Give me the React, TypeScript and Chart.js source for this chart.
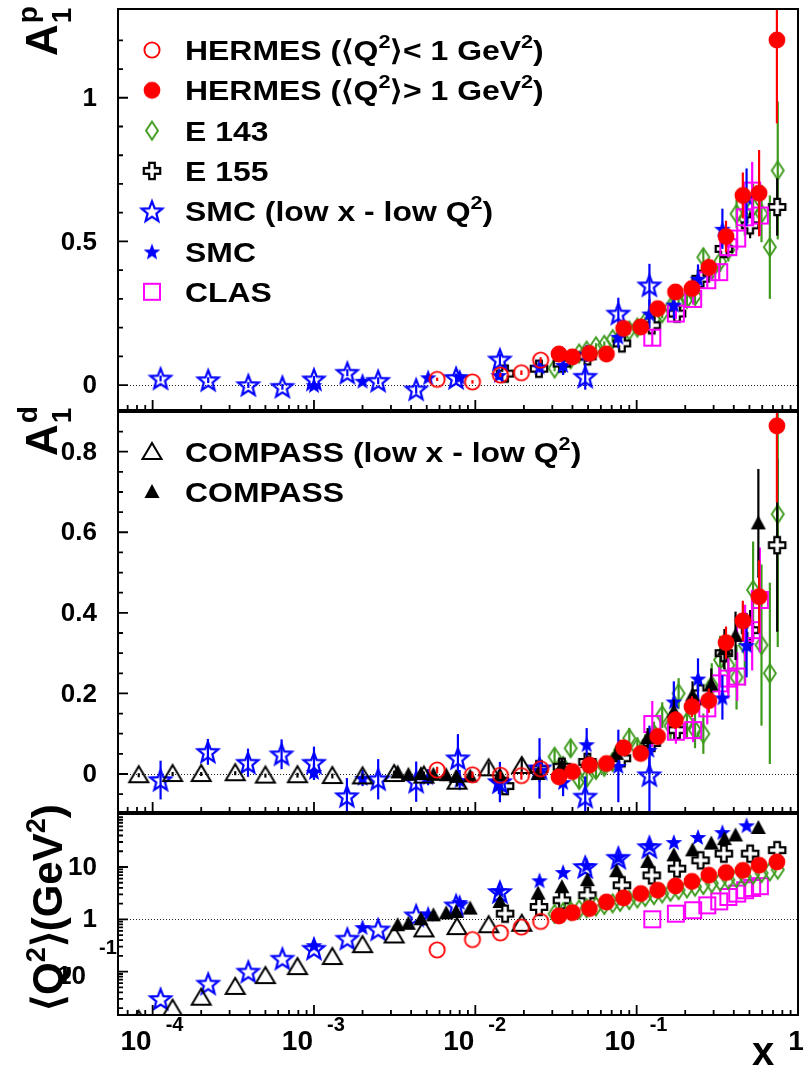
import React, { useEffect, useRef } from "react";
import { Chart, registerables } from "chart.js";
Chart.register(...registerables);

const W = 807;
const H = 1070;
const FONT = '"Liberation Sans", Arial, Helvetica, sans-serif';
const RED = "#ff0000";
const BLUE = "#0000ff";
const MAGENTA = "#ff00ff";
const GREEN = "#3d9a1c";
const BLACK = "#000000";

// ---------------- DATA ----------------
// HERMES <Q2> < 1 GeV2 (open circles)
const hermesLoX = [0.0058, 0.0096, 0.0143, 0.0193, 0.0254];
const hermesLoA1p = [0.02, 0.011, 0.035, 0.043, 0.087];
const hermesLoA1pErr = [0.006, 0.006, 0.007, 0.008, 0.01];
const hermesLoA1d = [0.01, -0.002, -0.003, -0.004, 0.013];
const hermesLoA1dErr = [0.008, 0.008, 0.009, 0.01, 0.012];
const hermesLoQ2 = [0.26, 0.41, 0.55, 0.71, 0.91];

// HERMES <Q2> > 1 GeV2 (filled circles)
const hermesHiX = [0.033, 0.04, 0.051, 0.065, 0.083, 0.106, 0.135, 0.174, 0.22, 0.28, 0.358, 0.455, 0.574, 0.74];
const hermesHiA1p = [0.108, 0.098, 0.11, 0.108, 0.197, 0.202, 0.266, 0.324, 0.336, 0.409, 0.517, 0.66, 0.668, 1.201];
const hermesHiA1pErr = [0.01, 0.01, 0.01, 0.012, 0.013, 0.015, 0.017, 0.02, 0.025, 0.03, 0.055, 0.08, 0.15, 0.29];
const hermesHiA1d = [-0.007, 0.006, 0.022, 0.026, 0.065, 0.051, 0.093, 0.134, 0.167, 0.182, 0.326, 0.38, 0.44, 0.864];
const hermesHiA1dErr = [0.012, 0.012, 0.013, 0.014, 0.015, 0.017, 0.02, 0.022, 0.026, 0.03, 0.04, 0.05, 0.09, 0.19];
const hermesHiQ2 = [1.16, 1.34, 1.6, 2.14, 2.56, 3.1, 3.6, 4.33, 5.3, 6.95, 7.8, 8.6, 10.8, 12.5];

// E143 (open diamonds)
const e143X = [0.031, 0.035, 0.039, 0.044, 0.049, 0.056, 0.063, 0.071, 0.079, 0.09, 0.101, 0.113, 0.128, 0.144, 0.162, 0.182, 0.205, 0.23, 0.259, 0.292, 0.329, 0.37, 0.416, 0.468, 0.527, 0.594, 0.669, 0.749];
const e143A1p = [0.058, 0.075, 0.09, 0.11, 0.12, 0.135, 0.14, 0.16, 0.165, 0.19, 0.2, 0.22, 0.23, 0.25, 0.27, 0.29, 0.3, 0.31, 0.445, 0.4, 0.43, 0.47, 0.596, 0.58, 0.62, 0.597, 0.48, 0.747];
const e143A1pErr = [0.01, 0.01, 0.01, 0.01, 0.01, 0.011, 0.012, 0.012, 0.013, 0.014, 0.015, 0.016, 0.017, 0.018, 0.02, 0.022, 0.024, 0.026, 0.03, 0.033, 0.036, 0.04, 0.05, 0.06, 0.08, 0.1, 0.18, 0.24];
const e143A1d = [0.043, 0.02, 0.064, -0.015, -0.01, 0.01, 0.018, 0.03, 0.06, 0.089, 0.065, 0.07, 0.1, 0.146, 0.12, 0.2, 0.13, 0.109, 0.1, 0.22, 0.283, 0.27, 0.24, 0.32, 0.457, 0.32, 0.25, 0.645];
const e143A1dErr = [0.02, 0.02, 0.02, 0.02, 0.02, 0.02, 0.02, 0.022, 0.024, 0.025, 0.026, 0.028, 0.03, 0.032, 0.035, 0.038, 0.04, 0.045, 0.05, 0.055, 0.06, 0.07, 0.08, 0.1, 0.12, 0.2, 0.225, 0.33];
const e143Q2 = [1.27, 1.36, 1.44, 1.54, 1.63, 1.76, 1.88, 2.02, 2.15, 2.33, 2.5, 2.68, 2.9, 3.12, 3.36, 3.62, 3.9, 4.2, 4.53, 4.89, 5.27, 5.68, 6.12, 6.59, 7.1, 7.65, 8.24, 8.88];

// E155 (open crosses)
const e155X = [0.0153, 0.0248, 0.0344, 0.0495, 0.081, 0.124, 0.178, 0.249, 0.347, 0.505, 0.743];
const e155A1p = [0.04, 0.057, 0.075, 0.1, 0.145, 0.208, 0.249, 0.37, 0.474, 0.556, 0.62];
const e155A1pErr = [0.012, 0.01, 0.01, 0.01, 0.012, 0.015, 0.02, 0.025, 0.03, 0.045, 0.1];
const e155A1d = [-0.03, 0.012, 0.018, 0.03, 0.039, 0.077, 0.109, 0.2, 0.3, 0.357, 0.568];
const e155A1dErr = [0.02, 0.015, 0.015, 0.015, 0.015, 0.02, 0.02, 0.03, 0.035, 0.05, 0.215];
const e155Q2 = [1.28, 1.72, 2.3, 2.88, 4.47, 6.9, 9.3, 13.4, 18, 18, 21];

// SMC low x - low Q2 (open stars)
const smcLoXp = [1.12e-4, 2.21e-4, 3.92e-4, 6.37e-4, 1.0e-3, 1.61e-3, 2.5e-3, 4.3e-3, 7.6e-3, 0.0142, 0.048, 0.077, 0.12];
const smcLoA1p = [0.023, 0.017, 0.0, -0.006, 0.02, 0.043, 0.015, -0.015, 0.025, 0.089, 0.029, 0.249, 0.347];
const smcLoA1pErr = [0.01, 0.01, 0.01, 0.01, 0.012, 0.012, 0.012, 0.015, 0.015, 0.02, 0.045, 0.055, 0.075];
const smcLoQ2 = [0.03, 0.059, 0.1, 0.177, 0.274, 0.426, 0.64, 1.19, 1.85, 3.33, 10, 15, 24];
const smcLoXd = [1.12e-4, 2.2e-4, 3.9e-4, 6.3e-4, 1.0e-3, 1.6e-3, 2.5e-3, 4.3e-3, 7.8e-3, 0.0142, 0.025, 0.048, 0.12];
const smcLoA1d = [-0.015, 0.055, 0.028, 0.049, 0.028, -0.055, -0.013, -0.019, 0.039, -0.02, 0.014, -0.056, -0.003];
const smcLoA1dErr = [0.048, 0.032, 0.035, 0.037, 0.04, 0.045, 0.05, 0.05, 0.06, 0.05, 0.075, 0.05, 0.11];

// SMC (filled stars)
const smcX = [1.0e-3, 2.0e-3, 5.1e-3, 8.0e-3, 0.014, 0.025, 0.035, 0.049, 0.077, 0.12, 0.17, 0.24, 0.34, 0.48];
const smcA1p = [0.0, 0.015, 0.027, 0.029, 0.035, 0.064, 0.07, 0.11, 0.168, 0.249, 0.28, 0.37, 0.544, 0.654];
const smcA1pErr = [0.01, 0.01, 0.012, 0.015, 0.015, 0.02, 0.035, 0.03, 0.04, 0.05, 0.05, 0.05, 0.07, 0.1];
const smcA1d = [0.005, -0.01, -0.008, -0.015, -0.02, 0.01, -0.02, 0.074, 0.02, 0.06, 0.18, 0.237, 0.19, 0.32];
const smcA1dErr = [0.02, 0.02, 0.02, 0.025, 0.03, 0.03, 0.035, 0.04, 0.09, 0.06, 0.05, 0.05, 0.055, 0.08];
const smcQ2 = [0.32, 0.71, 1.28, 2.14, 3.58, 5.57, 8.0, 10.8, 15.5, 26, 30, 37.5, 46.5, 62.7];

// CLAS (open squares)
const clasX = [0.125, 0.175, 0.224, 0.274, 0.325, 0.37, 0.42, 0.47, 0.52, 0.58];
const clasA1p = [0.165, 0.249, 0.3, 0.365, 0.393, 0.48, 0.51, 0.584, 0.677, 0.59];
const clasA1pErr = [0.03, 0.02, 0.02, 0.025, 0.03, 0.035, 0.04, 0.05, 0.1, 0.07];
const clasA1d = [0.124, 0.105, 0.109, 0.163, 0.225, 0.237, 0.242, 0.35, 0.357, 0.432];
const clasA1dErr = [0.057, 0.03, 0.03, 0.04, 0.04, 0.05, 0.06, 0.07, 0.1, 0.13];
const clasQ2 = [1.0, 1.28, 1.49, 1.85, 2.2, 2.67, 3.1, 3.6, 3.97, 4.3];

// COMPASS low x - low Q2 (open triangles)
const compassLoX = [8.2e-5, 1.33e-4, 2.0e-4, 3.25e-4, 5.0e-4, 7.9e-4, 1.3e-3, 2.0e-3, 3.14e-3, 4.8e-3, 7.7e-3, 0.0121, 0.0194];
const compassLoA1d = [-0.003, 0.0, 0.0, 0.002, -0.004, -0.003, -0.005, -0.006, 0.0, -0.004, -0.019, 0.014, 0.02];
const compassLoA1dErr = [0.005, 0.005, 0.005, 0.005, 0.005, 0.006, 0.006, 0.007, 0.008, 0.01, 0.012, 0.015, 0.02];
const compassLoQ2 = [0.012, 0.0195, 0.0317, 0.051, 0.082, 0.122, 0.19, 0.32, 0.49, 0.64, 0.71, 0.77, 0.82];

// COMPASS (filled triangles)
const compassX = [3.3e-3, 3.85e-3, 4.6e-3, 5.5e-3, 6.6e-3, 7.6e-3, 9.3e-3, 0.0142, 0.0245, 0.0344, 0.0495, 0.075, 0.117, 0.17, 0.222, 0.29, 0.35, 0.41, 0.568];
const compassA1d = [0.004, -0.002, 0.0, -0.002, -0.003, -0.007, -0.006, -0.003, 0.0, 0.02, 0.03, 0.05, 0.089, 0.155, 0.195, 0.222, 0.31, 0.343, 0.622];
const compassA1dErr = [0.006, 0.006, 0.006, 0.007, 0.008, 0.008, 0.01, 0.01, 0.012, 0.015, 0.015, 0.02, 0.025, 0.03, 0.035, 0.04, 0.05, 0.06, 0.135];
const compassQ2 = [0.77, 0.82, 1.0, 1.19, 1.3, 1.38, 1.6, 2.14, 3.1, 4.1, 5.6, 8.3, 12.5, 16.7, 20.8, 28, 34, 40, 55.7];

// ---------------- AXES / TICKS ----------------
const X_MIN = 6.1e-5;
const X_MAX = 1;
const xMajorTicks = [1e-4, 1e-3, 1e-2, 1e-1, 1];
const xMajorExp = ["-4", "-3", "-2", "-1", ""];
const xMinorTicks: number[] = [];
for (let e = -5; e < 0; e++) for (let k = 2; k <= 9; k++) xMinorTicks.push(k * Math.pow(10, e));

const a1pTicks = [0, 0.5, 1];
const a1pTickLabels = ["0", "0.5", "1"];
const a1pMinor = [0.1, 0.2, 0.3, 0.4, 0.6, 0.7, 0.8, 0.9, 1.1, 1.2];
const a1dTicks = [0, 0.2, 0.4, 0.6, 0.8];
const a1dTickLabels = ["0", "0.2", "0.4", "0.6", "0.8"];
const a1dMinor = [-0.05, 0.05, 0.1, 0.15, 0.25, 0.3, 0.35, 0.45, 0.5, 0.55, 0.65, 0.7, 0.75, 0.85];
const q2Ticks = [0.1, 1, 10];
const q2Minor: number[] = [];
for (let e = -2; e <= 1; e++) for (let k = 2; k <= 9; k++) q2Minor.push(k * Math.pow(10, e));

type Part = [string, number];
const legendP1: { m: string; parts: Part[] }[] = [
  { m: "circleOpen", parts: [["HERMES (\u27E8Q", 0], ["2", 1], ["\u27E9< 1 GeV", 0], ["2", 1], [")", 0]] },
  { m: "circleFilled", parts: [["HERMES (\u27E8Q", 0], ["2", 1], ["\u27E9> 1 GeV", 0], ["2", 1], [")", 0]] },
  { m: "diamond", parts: [["E 143", 0]] },
  { m: "cross", parts: [["E 155", 0]] },
  { m: "starOpen", parts: [["SMC (low x - low Q", 0], ["2", 1], [")", 0]] },
  { m: "starFilled", parts: [["SMC", 0]] },
  { m: "square", parts: [["CLAS", 0]] },
];
const legendP2: { m: string; parts: Part[] }[] = [
  { m: "triOpen", parts: [["COMPASS (low x - low Q", 0], ["2", 1], [")", 0]] },
  { m: "triFilled", parts: [["COMPASS", 0]] },
];

// ---------------- MARKERS ----------------
function buildMarkers(): Record<string, HTMLCanvasElement> {
  const mk = (draw: (g: CanvasRenderingContext2D) => void) => {
    const c = document.createElement("canvas");
    c.width = 32;
    c.height = 32;
    const g = c.getContext("2d")!;
    g.translate(16, 16);
    g.lineJoin = "miter";
    draw(g);
    return c;
  };
  const star = (g: CanvasRenderingContext2D, R: number, r: number) => {
    g.beginPath();
    for (let k = 0; k < 10; k++) {
      const rad = k % 2 === 0 ? R : r;
      const a = -Math.PI / 2 + (k * Math.PI) / 5;
      const px = rad * Math.cos(a);
      const py = rad * Math.sin(a) + 0.9;
      if (k === 0) g.moveTo(px, py);
      else g.lineTo(px, py);
    }
    g.closePath();
  };
  return {
    circleOpen: mk((g) => {
      g.beginPath();
      g.arc(0, 0, 7.6, 0, Math.PI * 2);
      g.strokeStyle = RED;
      g.lineWidth = 1.9;
      g.stroke();
    }),
    circleFilled: mk((g) => {
      g.beginPath();
      g.arc(0, 0, 8.4, 0, Math.PI * 2);
      g.fillStyle = RED;
      g.fill();
    }),
    diamond: mk((g) => {
      g.beginPath();
      g.moveTo(0, -9);
      g.lineTo(6, 0);
      g.lineTo(0, 9);
      g.lineTo(-6, 0);
      g.closePath();
      g.strokeStyle = GREEN;
      g.lineWidth = 1.9;
      g.stroke();
    }),
    cross: mk((g) => {
      const L = 8.2;
      const t = 2.8;
      const pts = [[-t, -L], [t, -L], [t, -t], [L, -t], [L, t], [t, t], [t, L], [-t, L], [-t, t], [-L, t], [-L, -t], [-t, -t]];
      g.beginPath();
      pts.forEach((p, i) => (i === 0 ? g.moveTo(p[0], p[1]) : g.lineTo(p[0], p[1])));
      g.closePath();
      g.fillStyle = "#fff";
      g.fill();
      g.strokeStyle = BLACK;
      g.lineWidth = 2.2;
      g.stroke();
    }),
    starOpen: mk((g) => {
      star(g, 10.8, 4.6);
      g.strokeStyle = BLUE;
      g.lineWidth = 2.2;
      g.stroke();
    }),
    starFilled: mk((g) => {
      star(g, 8.8, 3.7);
      g.fillStyle = BLUE;
      g.fill();
    }),
    square: mk((g) => {
      g.strokeStyle = MAGENTA;
      g.lineWidth = 2;
      g.strokeRect(-8, -8, 16, 16);
    }),
    triOpen: mk((g) => {
      g.beginPath();
      g.moveTo(0, -9);
      g.lineTo(9.5, 7);
      g.lineTo(-9.5, 7);
      g.closePath();
      g.strokeStyle = BLACK;
      g.lineWidth = 2;
      g.stroke();
    }),
    triFilled: mk((g) => {
      g.beginPath();
      g.moveTo(0, -8);
      g.lineTo(7.5, 6);
      g.lineTo(-7.5, 6);
      g.closePath();
      g.fillStyle = BLACK;
      g.fill();
    }),
  };
}

// ---------------- HELPERS ----------------
const FRAME_L = 118;
const FRAME_R = 805;

function ds(xs: number[], ys: number[], errs: number[] | null, marker: HTMLCanvasElement, color: string) {
  return {
    data: xs.map((x, i) => ({ x, y: ys[i] })),
    pointStyle: marker,
    pointRadius: 8,
    showLine: false,
    clip: 0,
    errs,
    errColor: color,
  } as any;
}

const errorBarPlugin = {
  id: "errbars",
  beforeDatasetDraw(chart: any, args: any) {
    const d = chart.data.datasets[args.index];
    if (!d.errs) return;
    const { ctx, chartArea: a } = chart;
    const xs = chart.scales.x;
    const ys = chart.scales.y;
    ctx.save();
    ctx.beginPath();
    ctx.rect(a.left, a.top, a.right - a.left, a.bottom - a.top);
    ctx.clip();
    ctx.strokeStyle = d.errColor;
    ctx.lineWidth = 2.2;
    d.data.forEach((p: any, i: number) => {
      const e = d.errs[i];
      if (!e) return;
      const px = xs.getPixelForValue(p.x);
      ctx.beginPath();
      ctx.moveTo(px, ys.getPixelForValue(p.y - e));
      ctx.lineTo(px, ys.getPixelForValue(p.y + e));
      ctx.stroke();
    });
    ctx.restore();
  },
};

function drawRich(ctx: CanvasRenderingContext2D, parts: Part[], x: number, y: number, size: number, supSize: number, raise: number) {
  let cx = x;
  ctx.textAlign = "left";
  ctx.textBaseline = "alphabetic";
  for (const [t, s] of parts) {
    ctx.font = `bold ${s ? supSize : size}px ${FONT}`;
    ctx.fillText(t, cx, s ? y - raise : y);
    cx += ctx.measureText(t).width;
  }
  return cx - x;
}

function refLine(chart: any, v: number) {
  const { ctx, chartArea: a } = chart;
  const py = Math.round(chart.scales.y.getPixelForValue(v)) + 0.5;
  ctx.save();
  ctx.strokeStyle = "#222";
  ctx.lineWidth = 1;
  ctx.setLineDash([1, 2]);
  ctx.beginPath();
  ctx.moveTo(a.left, py);
  ctx.lineTo(a.right, py);
  ctx.stroke();
  ctx.restore();
}

function frameTicks(chart: any, yMajor: number[], yMinor: number[]) {
  const { ctx, chartArea: a } = chart;
  const xs = chart.scales.x;
  const ys = chart.scales.y;
  ctx.save();
  ctx.strokeStyle = BLACK;
  ctx.lineWidth = 2;
  ctx.strokeRect(a.left, a.top, a.right - a.left, a.bottom - a.top);
  ctx.lineWidth = 1.8;
  ctx.beginPath();
  const inX = (px: number) => px > a.left + 1 && px < a.right - 1;
  xMajorTicks.forEach((v) => {
    const px = xs.getPixelForValue(v);
    if (!inX(px)) return;
    ctx.moveTo(px, a.bottom);
    ctx.lineTo(px, a.bottom - 10);
  });
  xMinorTicks.forEach((v) => {
    const px = xs.getPixelForValue(v);
    if (!inX(px)) return;
    ctx.moveTo(px, a.bottom);
    ctx.lineTo(px, a.bottom - 5);
  });
  const inY = (py: number) => py > a.top + 1 && py < a.bottom - 1;
  yMajor.forEach((v) => {
    const py = ys.getPixelForValue(v);
    if (!inY(py)) return;
    ctx.moveTo(a.left, py);
    ctx.lineTo(a.left + 10, py);
  });
  yMinor.forEach((v) => {
    const py = ys.getPixelForValue(v);
    if (!inY(py)) return;
    ctx.moveTo(a.left, py);
    ctx.lineTo(a.left + 5, py);
  });
  ctx.stroke();
  ctx.restore();
}

function yLabels(chart: any, vals: number[], labels: string[]) {
  const { ctx } = chart;
  ctx.save();
  ctx.fillStyle = BLACK;
  ctx.font = `bold 26px ${FONT}`;
  ctx.textAlign = "right";
  ctx.textBaseline = "middle";
  vals.forEach((v, i) => {
    ctx.fillText(labels[i], 97, chart.scales.y.getPixelForValue(v) + 1);
  });
  ctx.restore();
}

function drawLegend(chart: any, M: Record<string, HTMLCanvasElement>, entries: { m: string; parts: Part[] }[], y0: number, dy: number) {
  const { ctx } = chart;
  ctx.save();
  ctx.fillStyle = BLACK;
  entries.forEach((e, i) => {
    const cy = y0 + i * dy;
    const img = M[e.m];
    ctx.drawImage(img, 152 - img.width / 2, cy - img.height / 2);
    ctx.save();
    ctx.translate(185, cy + 10);
    ctx.scale(1.14, 1);
    drawRich(ctx, e.parts, 0, 0, 28, 19, 12);
    ctx.restore();
  });
  ctx.restore();
}

function rotTitle(ctx: CanvasRenderingContext2D, x: number, y: number, draw: () => void) {
  ctx.save();
  ctx.translate(x, y);
  ctx.rotate(-Math.PI / 2);
  ctx.fillStyle = BLACK;
  draw();
  ctx.restore();
}

function baseOptions(top: number, bottom: number, yScale: any) {
  return {
    animation: false,
    responsive: false,
    devicePixelRatio: 1,
    events: [],
    layout: { padding: { left: FRAME_L, right: W - FRAME_R, top, bottom: H - bottom } },
    scales: {
      x: { type: "logarithmic", min: X_MIN, max: X_MAX, display: false },
      y: { ...yScale, display: false },
    },
    plugins: { legend: { display: false }, tooltip: { enabled: false } },
  } as any;
}

export default function App() {
  const r1 = useRef<HTMLCanvasElement>(null);
  const r2 = useRef<HTMLCanvasElement>(null);
  const r3 = useRef<HTMLCanvasElement>(null);

  useEffect(() => {
    const M = buildMarkers();

    const p1 = new Chart(r1.current!, {
      type: "scatter",
      data: {
        datasets: [
          ds(hermesHiX, hermesHiA1p, hermesHiA1pErr, M.circleFilled, RED),
          ds(hermesLoX, hermesLoA1p, hermesLoA1pErr, M.circleOpen, RED),
          ds(smcX, smcA1p, smcA1pErr, M.starFilled, BLUE),
          ds(smcLoXp, smcLoA1p, smcLoA1pErr, M.starOpen, BLUE),
          ds(clasX, clasA1p, clasA1pErr, M.square, MAGENTA),
          ds(e155X, e155A1p, e155A1pErr, M.cross, BLACK),
          ds(e143X, e143A1p, e143A1pErr, M.diamond, GREEN),
        ],
      },
      options: baseOptions(8, 410, { type: "linear", min: -0.0868, max: 1.309 }),
      plugins: [
        errorBarPlugin,
        {
          id: "decor1",
          beforeDatasetsDraw(c: any) {
            refLine(c, 0);
          },
          afterDatasetsDraw(c: any) {
            frameTicks(c, a1pTicks, a1pMinor);
            yLabels(c, a1pTicks, a1pTickLabels);
            drawLegend(c, M, legendP1, 50, 40.3);
            rotTitle(c.ctx, 57, 56, () => {
              const g = c.ctx;
              g.font = `bold 44px ${FONT}`;
              g.textAlign = "left";
              g.fillText("A", 0, 0);
              const w = g.measureText("A").width;
              g.font = `bold 28px ${FONT}`;
              g.fillText("1", w + 1, 14);
              g.fillText("p", w + 1, -20);
            });
          },
        } as any,
      ],
    } as any);

    const p2 = new Chart(r2.current!, {
      type: "scatter",
      data: {
        datasets: [
          ds(hermesHiX, hermesHiA1d, hermesHiA1dErr, M.circleFilled, RED),
          ds(hermesLoX, hermesLoA1d, hermesLoA1dErr, M.circleOpen, RED),
          ds(compassX, compassA1d, compassA1dErr, M.triFilled, BLACK),
          ds(compassLoX, compassLoA1d, compassLoA1dErr, M.triOpen, BLACK),
          ds(smcX, smcA1d, smcA1dErr, M.starFilled, BLUE),
          ds(smcLoXd, smcLoA1d, smcLoA1dErr, M.starOpen, BLUE),
          ds(clasX, clasA1d, clasA1dErr, M.square, MAGENTA),
          ds(e155X, e155A1d, e155A1dErr, M.cross, BLACK),
          ds(e143X, e143A1d, e143A1dErr, M.diamond, GREEN),
        ],
      },
      options: baseOptions(412, 812, { type: "linear", min: -0.0943, max: 0.8985 }),
      plugins: [
        errorBarPlugin,
        {
          id: "decor2",
          beforeDatasetsDraw(c: any) {
            refLine(c, 0);
          },
          afterDatasetsDraw(c: any) {
            frameTicks(c, a1dTicks, a1dMinor);
            yLabels(c, a1dTicks, a1dTickLabels);
            drawLegend(c, M, legendP2, 452, 40);
            rotTitle(c.ctx, 57, 456, () => {
              const g = c.ctx;
              g.font = `bold 44px ${FONT}`;
              g.textAlign = "left";
              g.fillText("A", 0, 0);
              const w = g.measureText("A").width;
              g.font = `bold 28px ${FONT}`;
              g.fillText("1", w + 1, 14);
              g.fillText("d", w + 1, -20);
            });
          },
        } as any,
      ],
    } as any);

    const p3 = new Chart(r3.current!, {
      type: "scatter",
      data: {
        datasets: [
          ds(hermesHiX, hermesHiQ2, null, M.circleFilled, RED),
          ds(hermesLoX, hermesLoQ2, null, M.circleOpen, RED),
          ds(e143X, e143Q2, null, M.diamond, GREEN),
          ds(clasX, clasQ2, null, M.square, MAGENTA),
          ds(e155X, e155Q2, null, M.cross, BLACK),
          ds(compassX, compassQ2, null, M.triFilled, BLACK),
          ds(compassLoX, compassLoQ2, null, M.triOpen, BLACK),
          ds(smcX, smcQ2, null, M.starFilled, BLUE),
          ds(smcLoXp, smcLoQ2, null, M.starOpen, BLUE),
        ],
      },
      options: baseOptions(814, 1015, { type: "logarithmic", min: 0.0148, max: 103 }),
      plugins: [
        {
          id: "decor3",
          beforeDatasetsDraw(c: any) {
            refLine(c, 1);
          },
          afterDatasetsDraw(c: any) {
            frameTicks(c, q2Ticks, q2Minor);
            const g = c.ctx as CanvasRenderingContext2D;
            const ys = c.scales.y;
            const xs = c.scales.x;
            g.save();
            g.fillStyle = BLACK;
            g.textBaseline = "middle";
            g.textAlign = "right";
            g.font = `bold 26px ${FONT}`;
            g.fillText("10", 97, ys.getPixelForValue(q2Ticks[2]) + 1);
            g.fillText("1", 97, ys.getPixelForValue(q2Ticks[1]) + 1);
            g.fillText("10", 86, ys.getPixelForValue(q2Ticks[0]) + 5);
            g.textAlign = "left";
            g.font = `bold 20px ${FONT}`;
            g.fillText("-1", 99, ys.getPixelForValue(q2Ticks[0]) - 23);
            // x labels
            xMajorTicks.forEach((v, i) => {
              const px = xs.getPixelForValue(v);
              if (xMajorExp[i]) {
                g.textAlign = "right";
                g.font = `bold 28px ${FONT}`;
                g.fillText("10", px - 1, 1042);
                g.textAlign = "left";
                g.font = `bold 20px ${FONT}`;
                g.fillText(xMajorExp[i], px + 13, 1025);
              } else {
                g.textAlign = "center";
                g.font = `bold 28px ${FONT}`;
                g.fillText("1", px - 2, 1042);
              }
            });
            g.textAlign = "center";
            g.textBaseline = "alphabetic";
            g.font = `bold 40px ${FONT}`;
            g.fillText("x", 763, 1065);
            g.restore();
            rotTitle(g, 62, 1011, () => {
              drawRich(g, [["\u27E8Q", 0], ["2", 1], ["\u27E9(GeV", 0], ["2", 1], [")", 0]], 0, 0, 42, 27, 17);
            });
          },
        } as any,
      ],
    } as any);

    return () => {
      p1.destroy();
      p2.destroy();
      p3.destroy();
    };
  }, []);

  const cs: React.CSSProperties = { position: "absolute", left: 0, top: 0, width: W, height: H };
  return (
    <div style={{ position: "absolute", left: 0, top: 0, width: W, height: H, background: "#fff", overflow: "hidden" }}>
      <canvas ref={r1} width={W} height={H} style={cs} />
      <canvas ref={r2} width={W} height={H} style={cs} />
      <canvas ref={r3} width={W} height={H} style={cs} />
    </div>
  );
}
